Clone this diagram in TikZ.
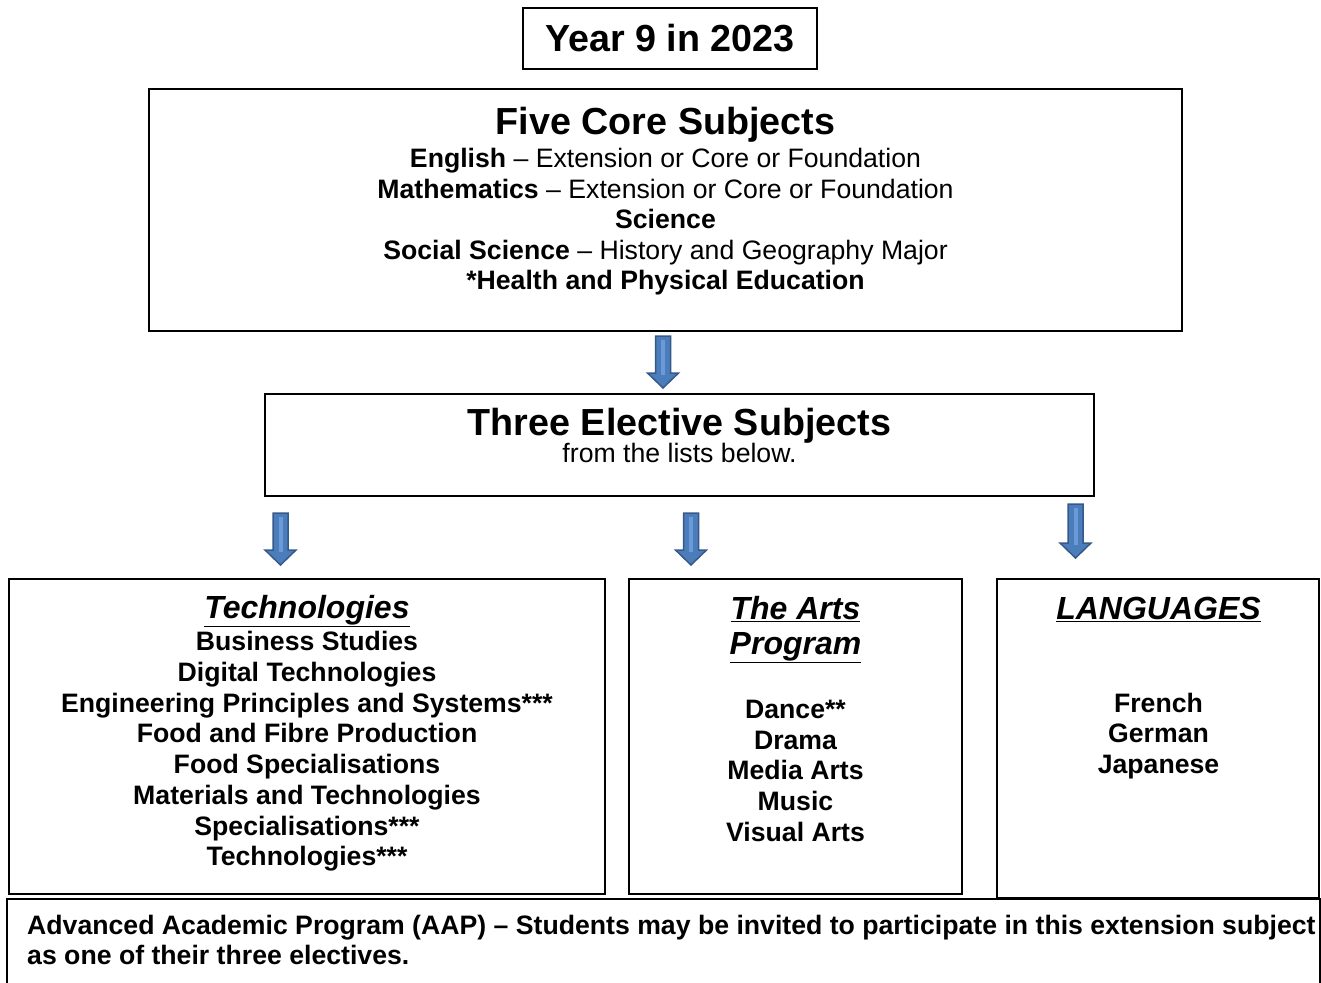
\documentclass[tikz,border=0pt]{standalone}
\usepackage{fontspec}
\setmainfont{Liberation Sans}
\definecolor{arrowfill}{HTML}{4A7DBA}
\definecolor{arrowdraw}{HTML}{36598A}
\definecolor{arrowhl}{HTML}{6A9BD8}
\newcommand\blockarrow[3]{%
  \draw[barrow] ({#1-7.5},{#2}) -- ({#1+7.5},{#2}) -- ({#1+7.5},{#3-15}) -- ({#1+15.5},{#3-15}) -- ({#1},{#3}) -- ({#1-15.5},{#3-15}) -- ({#1-7.5},{#3-15}) -- cycle;
  \draw[barrowhl] ({#1},{#2+4}) -- ({#1},{#3-13});}
\begin{document}
\begin{tikzpicture}[x=1pt,y=-1pt,
  box/.style={draw,line width=2.6pt,inner sep=0pt,outer sep=0pt,anchor=north west},
  barrow/.style={fill=arrowfill,draw=arrowdraw,line width=1.5pt,line join=miter},
  barrowhl/.style={draw=arrowhl,line width=4pt},
  big/.style={anchor=base,inner sep=0pt,font=\fontsize{37.7}{44}\selectfont\bfseries},
  txt/.style={anchor=base,inner sep=0pt,font=\fontsize{26.65}{30}\selectfont},
  btxt/.style={anchor=base,inner sep=0pt,font=\fontsize{26.65}{30}\selectfont\bfseries},
  head/.style={anchor=base,inner sep=0pt,font=\fontsize{32}{36}\selectfont\bfseries\itshape}]
\useasboundingbox (0,0) rectangle (1321,982);
% boxes
\node[box,minimum width=294pt,minimum height=61pt] (titlebox) at (523,8) {};
\node[box,minimum width=1033pt,minimum height=242pt] (corebox) at (149,89) {};
\node[box,minimum width=829pt,minimum height=102pt] (electbox) at (265,394) {};
\node[box,minimum width=596pt,minimum height=315pt] (techbox) at (9,579) {};
\node[box,minimum width=333pt,minimum height=315pt] (artsbox) at (629,579) {};
\node[box,minimum width=322pt,minimum height=319pt] (langbox) at (997,579) {};
\coordinate (aapa) at (7,984);
\coordinate (aapb) at (7,899);
\coordinate (aapc) at (1320,899);
\coordinate (aapd) at (1320,984);
\draw[line width=2.6pt] (aapa) -- (aapb) -- (aapc) -- (aapd);
% title
\node[big] (title) at (670,52) {Year 9 in 2023};
% core
\node[big] (corehead) at (665.5,134) {Five Core Subjects};
\node[txt] (c1) at (665.5,167.5) {\textbf{English} – Extension or Core or Foundation};
\node[txt] (c2) at (665.5,198) {\textbf{Mathematics} – Extension or Core or Foundation};
\node[btxt] (c3) at (665.5,228.5) {Science};
\node[txt] (c4) at (665.5,259) {\textbf{Social Science} – History and Geography Major};
\node[btxt] (c5) at (665.5,289.5) {*Health and Physical Education};
% elective
\node[big] (elhead) at (679.5,435) {Three Elective Subjects};
\node[txt] (el2) at (679.5,462) {from the lists below.};
% technologies
\node[head] (techhead) at (307,618) {\underline{Technologies}};
\node[btxt] (t1) at (307,650) {Business Studies};
\node[btxt] (t2) at (307,681) {Digital Technologies};
\node[btxt] (t3) at (307,712) {Engineering Principles and Systems***};
\node[btxt] (t4) at (307,742) {Food and Fibre Production};
\node[btxt] (t5) at (307,773) {Food Specialisations};
\node[btxt] (t6) at (307,804) {Materials and Technologies};
\node[btxt] (t7) at (307,835) {Specialisations***};
\node[btxt] (t8) at (307,865) {Technologies***};
% arts
\node[head] (artshead1) at (795.5,619) {\underline{The Arts}};
\node[head] (artshead2) at (795.5,654) {\underline{Program}};
\node[btxt] (a1) at (795.5,718) {Dance**};
\node[btxt] (a2) at (795.5,749) {Drama};
\node[btxt] (a3) at (795.5,779) {Media Arts};
\node[btxt] (a4) at (795.5,810) {Music};
\node[btxt] (a5) at (795.5,841) {Visual Arts};
% languages
\node[head] (langhead) at (1158.5,619) {\underline{LANGUAGES}};
\node[btxt] (l1) at (1158.5,712) {French};
\node[btxt] (l2) at (1158.5,742) {German};
\node[btxt] (l3) at (1158.5,773) {Japanese};
% AAP
\node[btxt,anchor=base west] (aap1) at (27,934) {Advanced Academic Program (AAP) – Students may be invited to participate in this extension subject};
\node[btxt,anchor=base west] (aap2) at (27,964) {as one of their three electives.};
% block arrows
\blockarrow{663}{336}{388}
\blockarrow{280.5}{513}{565}
\blockarrow{691}{513}{565}
\blockarrow{1075.5}{504}{558}
\end{tikzpicture}
\end{document}
